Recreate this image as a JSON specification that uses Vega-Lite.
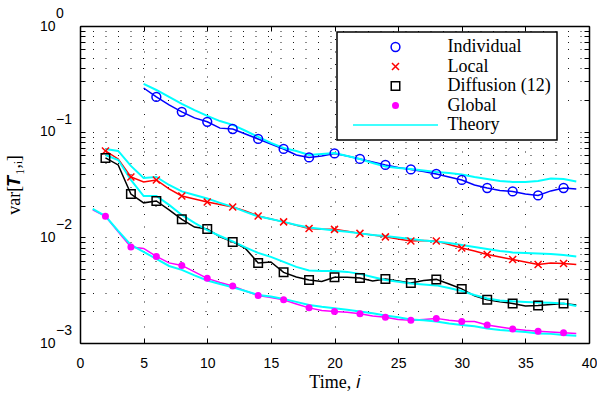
{
"$schema": "https://vega.github.io/schema/vega-lite/v6.json",
"width": 509, "height": 317,
"autosize": {"type": "none"},
"padding": {"left": 80, "top": 26, "right": 8, "bottom": 50},
"background": "white",
"datasets": {
"sim": [
{"time":5,"method":"Individual","var":0.259},{"time":6,"method":"Individual","var":0.213},{"time":7,"method":"Individual","var":0.179},{"time":8,"method":"Individual","var":0.154},{"time":9,"method":"Individual","var":0.135},{"time":10,"method":"Individual","var":0.124},{"time":11,"method":"Individual","var":0.108},{"time":12,"method":"Individual","var":0.106},{"time":13,"method":"Individual","var":0.0951},{"time":14,"method":"Individual","var":0.0853},{"time":15,"method":"Individual","var":0.0765},{"time":16,"method":"Individual","var":0.0686},{"time":17,"method":"Individual","var":0.0602},{"time":18,"method":"Individual","var":0.0570},{"time":19,"method":"Individual","var":0.0589},{"time":20,"method":"Individual","var":0.0622},{"time":21,"method":"Individual","var":0.0589},{"time":22,"method":"Individual","var":0.0552},{"time":23,"method":"Individual","var":0.0517},{"time":24,"method":"Individual","var":0.0484},{"time":25,"method":"Individual","var":0.0459},{"time":26,"method":"Individual","var":0.0439},{"time":27,"method":"Individual","var":0.0420},{"time":28,"method":"Individual","var":0.0398},{"time":29,"method":"Individual","var":0.0373},{"time":30,"method":"Individual","var":0.0349},{"time":31,"method":"Individual","var":0.0313},{"time":32,"method":"Individual","var":0.0293},{"time":33,"method":"Individual","var":0.0278},{"time":34,"method":"Individual","var":0.0272},{"time":35,"method":"Individual","var":0.0257},{"time":36,"method":"Individual","var":0.0249},{"time":37,"method":"Individual","var":0.0275},{"time":38,"method":"Individual","var":0.0293},{"time":39,"method":"Individual","var":0.0287},
{"time":2,"method":"Local","var":0.0657},{"time":3,"method":"Local","var":0.0552},{"time":4,"method":"Local","var":0.0373},{"time":5,"method":"Local","var":0.0334},{"time":6,"method":"Local","var":0.0349},{"time":7,"method":"Local","var":0.0287},{"time":8,"method":"Local","var":0.0246},{"time":9,"method":"Local","var":0.0231},{"time":10,"method":"Local","var":0.0216},{"time":11,"method":"Local","var":0.0205},{"time":12,"method":"Local","var":0.0194},{"time":13,"method":"Local","var":0.0178},{"time":14,"method":"Local","var":0.0159},{"time":15,"method":"Local","var":0.0149},{"time":16,"method":"Local","var":0.0140},{"time":17,"method":"Local","var":0.0130},{"time":18,"method":"Local","var":0.0121},{"time":19,"method":"Local","var":0.0119},{"time":20,"method":"Local","var":0.0119},{"time":21,"method":"Local","var":0.0114},{"time":22,"method":"Local","var":0.0109},{"time":23,"method":"Local","var":0.0105},{"time":24,"method":"Local","var":0.0101},{"time":25,"method":"Local","var":0.00966},{"time":26,"method":"Local","var":0.00925},{"time":27,"method":"Local","var":0.00935},{"time":28,"method":"Local","var":0.00925},{"time":29,"method":"Local","var":0.00857},{"time":30,"method":"Local","var":0.00794},{"time":31,"method":"Local","var":0.00744},{"time":32,"method":"Local","var":0.00689},{"time":33,"method":"Local","var":0.00653},{"time":34,"method":"Local","var":0.00618},{"time":35,"method":"Local","var":0.00585},{"time":36,"method":"Local","var":0.00554},{"time":37,"method":"Local","var":0.00573},{"time":38,"method":"Local","var":0.00566},{"time":39,"method":"Local","var":0.00554},
{"time":2,"method":"Diffusion (12)","var":0.0564},{"time":3,"method":"Diffusion (12)","var":0.0484},{"time":4,"method":"Diffusion (12)","var":0.0257},{"time":5,"method":"Diffusion (12)","var":0.0212},{"time":6,"method":"Diffusion (12)","var":0.0221},{"time":7,"method":"Diffusion (12)","var":0.0182},{"time":8,"method":"Diffusion (12)","var":0.0148},{"time":9,"method":"Diffusion (12)","var":0.0125},{"time":10,"method":"Diffusion (12)","var":0.0120},{"time":11,"method":"Diffusion (12)","var":0.0101},{"time":12,"method":"Diffusion (12)","var":0.00905},{"time":13,"method":"Diffusion (12)","var":0.00785},{"time":14,"method":"Diffusion (12)","var":0.00573},{"time":15,"method":"Diffusion (12)","var":0.00585},{"time":16,"method":"Diffusion (12)","var":0.00466},{"time":17,"method":"Diffusion (12)","var":0.00422},{"time":18,"method":"Diffusion (12)","var":0.00395},{"time":19,"method":"Diffusion (12)","var":0.00383},{"time":20,"method":"Diffusion (12)","var":0.00418},{"time":21,"method":"Diffusion (12)","var":0.00418},{"time":22,"method":"Diffusion (12)","var":0.00413},{"time":23,"method":"Diffusion (12)","var":0.00387},{"time":24,"method":"Diffusion (12)","var":0.00404},{"time":25,"method":"Diffusion (12)","var":0.00387},{"time":26,"method":"Diffusion (12)","var":0.00370},{"time":27,"method":"Diffusion (12)","var":0.00391},{"time":28,"method":"Diffusion (12)","var":0.00400},{"time":29,"method":"Diffusion (12)","var":0.00362},{"time":30,"method":"Diffusion (12)","var":0.00325},{"time":31,"method":"Diffusion (12)","var":0.00279},{"time":32,"method":"Diffusion (12)","var":0.00256},{"time":33,"method":"Diffusion (12)","var":0.00245},{"time":34,"method":"Diffusion (12)","var":0.00237},{"time":35,"method":"Diffusion (12)","var":0.00224},{"time":36,"method":"Diffusion (12)","var":0.00227},{"time":37,"method":"Diffusion (12)","var":0.00232},{"time":38,"method":"Diffusion (12)","var":0.00237},{"time":39,"method":"Diffusion (12)","var":0.00229},
{"time":1,"method":"Global","var":0.0182},{"time":2,"method":"Global","var":0.0158},{"time":3,"method":"Global","var":0.0113},{"time":4,"method":"Global","var":0.00811},{"time":5,"method":"Global","var":0.00785},{"time":6,"method":"Global","var":0.00660},{"time":7,"method":"Global","var":0.00573},{"time":8,"method":"Global","var":0.00542},{"time":9,"method":"Global","var":0.00471},{"time":10,"method":"Global","var":0.00409},{"time":11,"method":"Global","var":0.00374},{"time":12,"method":"Global","var":0.00347},{"time":13,"method":"Global","var":0.00311},{"time":14,"method":"Global","var":0.00282},{"time":15,"method":"Global","var":0.00270},{"time":16,"method":"Global","var":0.00256},{"time":17,"method":"Global","var":0.00234},{"time":18,"method":"Global","var":0.00215},{"time":19,"method":"Global","var":0.00203},{"time":20,"method":"Global","var":0.00199},{"time":21,"method":"Global","var":0.00195},{"time":22,"method":"Global","var":0.00189},{"time":23,"method":"Global","var":0.00180},{"time":24,"method":"Global","var":0.00175},{"time":25,"method":"Global","var":0.00167},{"time":26,"method":"Global","var":0.00164},{"time":27,"method":"Global","var":0.00167},{"time":28,"method":"Global","var":0.00171},{"time":29,"method":"Global","var":0.00164},{"time":30,"method":"Global","var":0.00160},{"time":31,"method":"Global","var":0.00160},{"time":32,"method":"Global","var":0.00148},{"time":33,"method":"Global","var":0.00142},{"time":34,"method":"Global","var":0.00136},{"time":35,"method":"Global","var":0.00132},{"time":36,"method":"Global","var":0.00129},{"time":37,"method":"Global","var":0.00127},{"time":38,"method":"Global","var":0.00125},{"time":39,"method":"Global","var":0.00123}
],
"theory": [
{"time":5,"method":"Individual","var":0.283},{"time":6,"method":"Individual","var":0.248},{"time":7,"method":"Individual","var":0.213},{"time":8,"method":"Individual","var":0.183},{"time":9,"method":"Individual","var":0.160},{"time":10,"method":"Individual","var":0.141},{"time":11,"method":"Individual","var":0.126},{"time":12,"method":"Individual","var":0.116},{"time":13,"method":"Individual","var":0.102},{"time":14,"method":"Individual","var":0.0891},{"time":15,"method":"Individual","var":0.0782},{"time":16,"method":"Individual","var":0.0701},{"time":17,"method":"Individual","var":0.0657},{"time":18,"method":"Individual","var":0.0602},{"time":19,"method":"Individual","var":0.0615},{"time":20,"method":"Individual","var":0.0629},{"time":21,"method":"Individual","var":0.0589},{"time":22,"method":"Individual","var":0.0552},{"time":23,"method":"Individual","var":0.0506},{"time":24,"method":"Individual","var":0.0469},{"time":25,"method":"Individual","var":0.0454},{"time":26,"method":"Individual","var":0.0444},{"time":27,"method":"Individual","var":0.0430},{"time":28,"method":"Individual","var":0.0416},{"time":29,"method":"Individual","var":0.0407},{"time":30,"method":"Individual","var":0.0394},{"time":31,"method":"Individual","var":0.0373},{"time":32,"method":"Individual","var":0.0357},{"time":33,"method":"Individual","var":0.0342},{"time":34,"method":"Individual","var":0.0334},{"time":35,"method":"Individual","var":0.0334},{"time":36,"method":"Individual","var":0.0342},{"time":37,"method":"Individual","var":0.0361},{"time":38,"method":"Individual","var":0.0357},{"time":39,"method":"Individual","var":0.0338},
{"time":2,"method":"Local","var":0.0686},{"time":3,"method":"Local","var":0.0657},{"time":4,"method":"Local","var":0.0474},{"time":5,"method":"Local","var":0.0365},{"time":6,"method":"Local","var":0.0373},{"time":7,"method":"Local","var":0.0313},{"time":8,"method":"Local","var":0.0272},{"time":9,"method":"Local","var":0.0252},{"time":10,"method":"Local","var":0.0233},{"time":11,"method":"Local","var":0.0212},{"time":12,"method":"Local","var":0.0194},{"time":13,"method":"Local","var":0.0174},{"time":14,"method":"Local","var":0.0158},{"time":15,"method":"Local","var":0.0149},{"time":16,"method":"Local","var":0.0140},{"time":17,"method":"Local","var":0.0131},{"time":18,"method":"Local","var":0.0124},{"time":19,"method":"Local","var":0.0120},{"time":20,"method":"Local","var":0.0116},{"time":21,"method":"Local","var":0.0113},{"time":22,"method":"Local","var":0.0109},{"time":23,"method":"Local","var":0.0105},{"time":24,"method":"Local","var":0.0103},{"time":25,"method":"Local","var":0.00998},{"time":26,"method":"Local","var":0.00966},{"time":27,"method":"Local","var":0.00935},{"time":28,"method":"Local","var":0.00915},{"time":29,"method":"Local","var":0.00885},{"time":30,"method":"Local","var":0.00847},{"time":31,"method":"Local","var":0.00811},{"time":32,"method":"Local","var":0.00777},{"time":33,"method":"Local","var":0.00744},{"time":34,"method":"Local","var":0.00720},{"time":35,"method":"Local","var":0.00712},{"time":36,"method":"Local","var":0.00704},{"time":37,"method":"Local","var":0.00697},{"time":38,"method":"Local","var":0.00682},{"time":39,"method":"Local","var":0.00660},
{"time":2,"method":"Diffusion (12)","var":0.0602},{"time":3,"method":"Diffusion (12)","var":0.0540},{"time":4,"method":"Diffusion (12)","var":0.0349},{"time":5,"method":"Diffusion (12)","var":0.0246},{"time":6,"method":"Diffusion (12)","var":0.0246},{"time":7,"method":"Diffusion (12)","var":0.0203},{"time":8,"method":"Diffusion (12)","var":0.0163},{"time":9,"method":"Diffusion (12)","var":0.0137},{"time":10,"method":"Diffusion (12)","var":0.0117},{"time":11,"method":"Diffusion (12)","var":0.0103},{"time":12,"method":"Diffusion (12)","var":0.00915},{"time":13,"method":"Diffusion (12)","var":0.00803},{"time":14,"method":"Diffusion (12)","var":0.00712},{"time":15,"method":"Diffusion (12)","var":0.00653},{"time":16,"method":"Diffusion (12)","var":0.00585},{"time":17,"method":"Diffusion (12)","var":0.00525},{"time":18,"method":"Diffusion (12)","var":0.00486},{"time":19,"method":"Diffusion (12)","var":0.00481},{"time":20,"method":"Diffusion (12)","var":0.00481},{"time":21,"method":"Diffusion (12)","var":0.00471},{"time":22,"method":"Diffusion (12)","var":0.00451},{"time":23,"method":"Diffusion (12)","var":0.00422},{"time":24,"method":"Diffusion (12)","var":0.00395},{"time":25,"method":"Diffusion (12)","var":0.00379},{"time":26,"method":"Diffusion (12)","var":0.00366},{"time":27,"method":"Diffusion (12)","var":0.00358},{"time":28,"method":"Diffusion (12)","var":0.00351},{"time":29,"method":"Diffusion (12)","var":0.00332},{"time":30,"method":"Diffusion (12)","var":0.00311},{"time":31,"method":"Diffusion (12)","var":0.00285},{"time":32,"method":"Diffusion (12)","var":0.00264},{"time":33,"method":"Diffusion (12)","var":0.00253},{"time":34,"method":"Diffusion (12)","var":0.00248},{"time":35,"method":"Diffusion (12)","var":0.00245},{"time":36,"method":"Diffusion (12)","var":0.00242},{"time":37,"method":"Diffusion (12)","var":0.00240},{"time":38,"method":"Diffusion (12)","var":0.00237},{"time":39,"method":"Diffusion (12)","var":0.00224},
{"time":1,"method":"Global","var":0.0186},{"time":2,"method":"Global","var":0.0159},{"time":3,"method":"Global","var":0.0115},{"time":4,"method":"Global","var":0.00847},{"time":5,"method":"Global","var":0.00728},{"time":6,"method":"Global","var":0.00625},{"time":7,"method":"Global","var":0.00536},{"time":8,"method":"Global","var":0.00492},{"time":9,"method":"Global","var":0.00436},{"time":10,"method":"Global","var":0.00391},{"time":11,"method":"Global","var":0.00362},{"time":12,"method":"Global","var":0.00336},{"time":13,"method":"Global","var":0.00311},{"time":14,"method":"Global","var":0.00285},{"time":15,"method":"Global","var":0.00276},{"time":16,"method":"Global","var":0.00261},{"time":17,"method":"Global","var":0.00245},{"time":18,"method":"Global","var":0.00229},{"time":19,"method":"Global","var":0.00220},{"time":20,"method":"Global","var":0.00213},{"time":21,"method":"Global","var":0.00206},{"time":22,"method":"Global","var":0.00199},{"time":23,"method":"Global","var":0.00191},{"time":24,"method":"Global","var":0.00182},{"time":25,"method":"Global","var":0.00175},{"time":26,"method":"Global","var":0.00167},{"time":27,"method":"Global","var":0.00164},{"time":28,"method":"Global","var":0.00160},{"time":29,"method":"Global","var":0.00153},{"time":30,"method":"Global","var":0.00148},{"time":31,"method":"Global","var":0.00144},{"time":32,"method":"Global","var":0.00137},{"time":33,"method":"Global","var":0.00133},{"time":34,"method":"Global","var":0.00130},{"time":35,"method":"Global","var":0.00127},{"time":36,"method":"Global","var":0.00123},{"time":37,"method":"Global","var":0.00122},{"time":38,"method":"Global","var":0.00119},{"time":39,"method":"Global","var":0.00117}
],
"exps": [{"v":1,"e":"0"},{"v":0.1,"e":"−1"},{"v":0.01,"e":"−2"},{"v":0.001,"e":"−3"}]
},
"layer": [
{"layer": [
 {"data": {"name": "sim"},
  "mark": {"type": "line", "strokeWidth": 1.5},
  "encoding": {
   "x": {"field": "time", "type": "quantitative", "scale": {"domain": [0, 40], "nice": false},
    "axis": {"values": [0,5,10,15,20,25,30,35,40], "title": "Time, 𝑖", "titleFont": "Liberation Serif", "titleFontSize": 18, "titleFontWeight": "normal", "titleBaseline": "middle", "titleY": 39,
     "labelFont": "Liberation Sans", "labelFontSize": 14, "labelFlush": false, "labelPadding": 18, "labelOverlap": false,
     "tickSize": -5, "tickWidth": 1, "domainWidth": 1.5, "grid": true, "gridColor": "#000", "gridDash": [1, 11.5], "gridWidth": 1, "gridOpacity": 0.9}},
   "y": {"field": "var", "type": "quantitative", "scale": {"type": "log", "domain": [0.001, 1], "nice": false},
    "axis": {"values": [0.001,0.002,0.003,0.004,0.005,0.006,0.007,0.008,0.009,0.01,0.02,0.03,0.04,0.05,0.06,0.07,0.08,0.09,0.1,0.2,0.3,0.4,0.5,0.6,0.7,0.8,0.9,1],
     "labelExpr": "(datum.value == 1 || datum.value == 0.1 || datum.value == 0.01 || datum.value == 0.001) ? '10' : ''",
     "title": "var[𝑻₁,ᵢ]", "titleFont": "Liberation Serif", "titleFontSize": 18, "titleFontWeight": "normal", "titleX": -66, "titleBaseline": "middle",
     "labelFont": "Liberation Sans", "labelFontSize": 14, "labelPadding": 30, "labelOverlap": false, "labelBaseline": "middle",
     "tickSize": -5, "tickWidth": 1, "domainWidth": 1.5, "grid": true, "gridColor": "#000", "gridDash": [1, 11.5], "gridWidth": 1, "gridOpacity": 0.9}},
   "color": {"field": "method", "type": "nominal", "scale": {"domain": ["Individual", "Local", "Diffusion (12)", "Global"], "range": ["#0000ff", "#ff0000", "#000000", "#ff00ff"]}, "legend": null}
  }},
 {"data": {"name": "theory"},
  "mark": {"type": "line", "strokeWidth": 2, "color": "#00ffff"},
  "encoding": {
   "x": {"field": "time", "type": "quantitative"},
   "y": {"field": "var", "type": "quantitative"},
   "detail": {"field": "method", "type": "nominal"}
  }},
 {"data": {"name": "sim"},
  "transform": [{"filter": "datum.time % 2 == 0"}],
  "mark": {"type": "point", "strokeWidth": 1.5, "opacity": 1, "size": 100},
  "encoding": {
   "x": {"field": "time", "type": "quantitative"},
   "y": {"field": "var", "type": "quantitative"},
   "shape": {"field": "method", "type": "nominal", "scale": {"domain": ["Individual", "Local", "Diffusion (12)", "Global", "Theory"], "range": ["M0.88,0A0.88,0.88,0,1,1,-0.88,0A0.88,0.88,0,1,1,0.88,0Z", "M-0.7,-0.7L0.7,0.7M-0.7,0.7L0.7,-0.7", "M-0.85,-0.85L0.85,-0.85L0.85,0.85L-0.85,0.85Z", "M0.55,0A0.55,0.55,0,1,1,-0.55,0A0.55,0.55,0,1,1,0.55,0Z", "M-8.5,0L8.5,0"]},
     "legend": {"title": " ", "labelExpr": "datum.label + '    '"}},
   "stroke": {"field": "method", "type": "nominal", "scale": {"domain": ["Individual", "Local", "Diffusion (12)", "Global", "Theory"], "range": ["#0000ff", "#ff0000", "#000000", "#ff00ff", "#00ffff"]},
     "legend": {"title": " ", "labelExpr": "datum.label + '    '"}},
   "fill": {"field": "method", "type": "nominal", "scale": {"domain": ["Individual", "Local", "Diffusion (12)", "Global", "Theory"], "range": ["transparent", "transparent", "transparent", "#ff00ff", "transparent"]},
     "legend": {"title": " ", "labelExpr": "datum.label + '    '"}}
  }}
 ]},
{"data": {"name": "exps"},
 "mark": {"type": "text", "align": "left", "baseline": "middle", "dx": -24, "dy": -12, "font": "Liberation Sans", "fontSize": 14, "color": "#000"},
 "encoding": {
  "x": {"datum": 0, "type": "quantitative",
   "axis": {"orient": "top", "values": [0,5,10,15,20,25,30,35,40], "labels": false, "title": null, "tickSize": -5, "tickWidth": 1, "domainWidth": 1.5, "grid": false}},
  "y": {"field": "v", "type": "quantitative",
   "axis": {"orient": "right", "values": [0.001,0.002,0.003,0.004,0.005,0.006,0.007,0.008,0.009,0.01,0.02,0.03,0.04,0.05,0.06,0.07,0.08,0.09,0.1,0.2,0.3,0.4,0.5,0.6,0.7,0.8,0.9,1], "labels": false, "title": null, "tickSize": -5, "tickWidth": 1, "domainWidth": 1.5, "grid": false}},
  "text": {"field": "e"}
 }}
],
"resolve": {"axis": {"x": "independent", "y": "independent"}},
"config": {
 "view": {"stroke": null},
 "font": "Liberation Sans",
 "axis": {"tickColor": "#000", "domainColor": "#000", "labelColor": "#000", "titleColor": "#000"},
 "legend": {"orient": "none", "legendX": 257, "legendY": 6, "padding": 6, "rowPadding": 1.5, "labelFont": "Liberation Serif", "labelFontSize": 18, "labelColor": "#000", "labelOffset": 43, "symbolOffset": 34, "symbolSize": 100, "strokeColor": "#000", "strokeWidth": 1.5, "fillColor": "#fff", "symbolStrokeWidth": 1.5, "titleOrient": "left", "titleFontSize": 10, "titlePadding": 9.5}
}
}
